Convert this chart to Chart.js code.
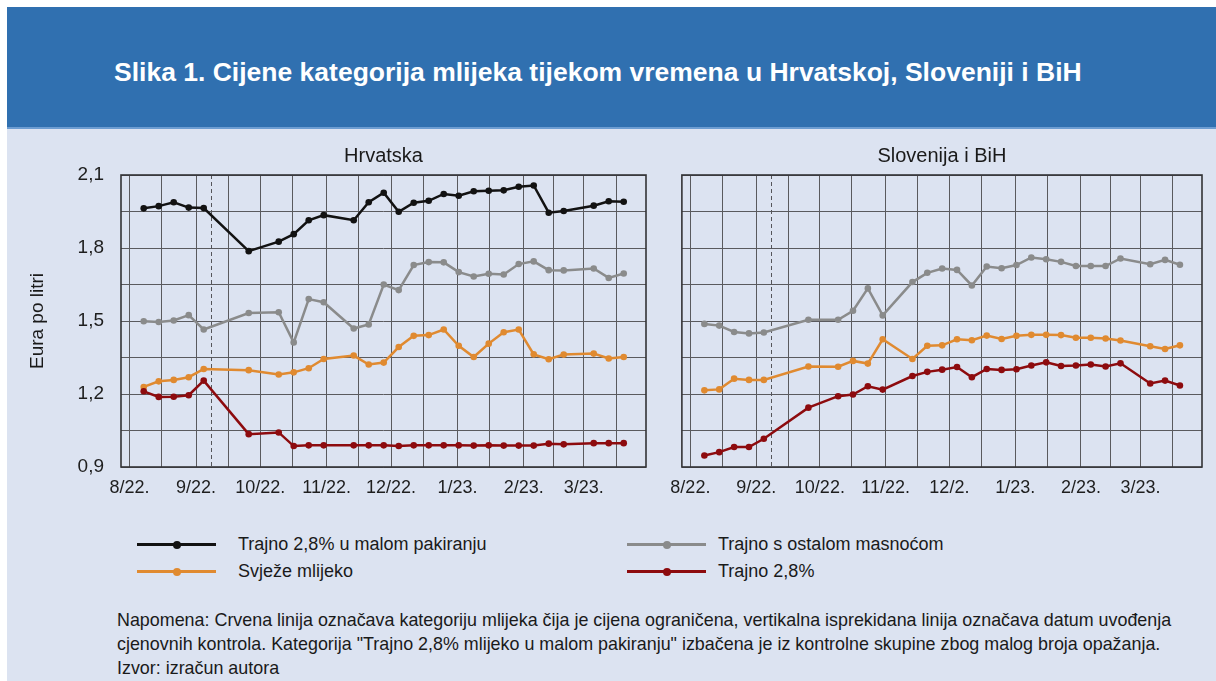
<!DOCTYPE html>
<html lang="hr">
<head>
<meta charset="utf-8">
<title>Slika 1. Cijene kategorija mlijeka</title>
<script src="https://cdn.jsdelivr.net/npm/chart.js@4.4.1/dist/chart.umd.min.js"></script>
<style>
  html, body { margin: 0; padding: 0; background: #fff; }
  body {
    width: 1216px; height: 681px; position: relative; overflow: hidden;
    font-family: "Liberation Sans", Arial, sans-serif;
    color: #1a1a1a;
  }
  .bg { position: absolute; left: 7px; top: 7px; right: 0; bottom: 0; background: #dce3f1; }
  .header {
    position: absolute; left: 7px; top: 7px; width: 1209px; height: 120px;
    background: #3070b0; border-bottom: 2px solid #6d9dd2;
  }
  .header h1 {
    position: absolute; left: 107px; top: 50px; margin: 0; line-height: 30px;
    font: bold 26.5px "Liberation Sans", Arial, sans-serif; color: #fff; white-space: nowrap;
  }
  canvas { position: absolute; }
  #chartHr { left: 0; top: 135px; }
  #chartSi { left: 660px; top: 135px; }
  .legend { position: absolute; font-size: 18px; white-space: nowrap; }
  .legend .item { position: absolute; height: 22px; }
  .legend .swatch { position: absolute; left: 0; top: 9px; width: 79px; height: 3px; }
  .legend .swatch::after {
    content: ""; position: absolute; left: 36px; top: -2.5px; width: 8px; height: 8px;
    border-radius: 50%; background: inherit;
  }
  .legend .label { position: absolute; top: 0; }
  .note { position: absolute; left: 117px; top: 608px; font-size: 17.9px; line-height: 24px; white-space: nowrap; }
</style>
</head>
<body>
<div class="bg"></div>
<div class="header"><h1>Slika 1. Cijene kategorija mlijeka tijekom vremena u Hrvatskoj, Sloveniji i BiH</h1></div>
<canvas id="chartHr" width="660" height="365"></canvas>
<canvas id="chartSi" width="556" height="365"></canvas>
<div class="legend" id="legend"></div>
<div class="note">
  Napomena: Crvena linija označava kategoriju mlijeka čija je cijena ograničena, vertikalna isprekidana linija označava datum uvođenja<br>
  cjenovnih kontrola. Kategorija &quot;Trajno 2,8% mlijeko u malom pakiranju&quot; izbačena je iz kontrolne skupine zbog malog broja opažanja.<br>
  Izvor: izračun autora
</div>
<script>
// x axis is days since 1 Aug 2022; observations are weekly
const firstObsDay = 6.6;
const capDay = 38; // uvođenje kontrole cijena (8.9.2022.)
const obsWeeks = [0, 1, 2, 3, 4, 7, 9, 10, 11, 12, 14, 15, 16, 17, 18, 19, 20, 21, 22, 23, 24, 25, 26, 27, 28, 30, 31, 32];

const gridDays = [0, 15, 31, 46, 61, 76, 92, 107, 122, 137, 153, 168, 184, 198, 212, 227];
const monthDays = [0, 31, 61, 92, 122, 153, 184, 212];
const monthLabelsHr = ["8/22.", "9/22.", "10/22.", "11/22.", "12/22.", "1/23.", "2/23.", "3/23."];
const monthLabelsSi = ["8/22.", "9/22.", "10/22.", "11/22.", "12/2.", "1/23.", "2/23.", "3/23."];

const yGridValues = [0.9, 1.05, 1.2, 1.35, 1.5, 1.65, 1.8, 1.95, 2.1];
const yLabelValues = [0.9, 1.2, 1.5, 1.8, 2.1];

// Hrvatska
const hrMaloPakiranje = [1.963, 1.972, 1.988, 1.966, 1.964, 1.787, 1.826, 1.857, 1.914, 1.935, 1.914, 1.988,
  2.027, 1.949, 1.986, 1.994, 2.022, 2.015, 2.033, 2.035, 2.037, 2.052, 2.057, 1.945, 1.952, 1.974, 1.992, 1.990];
const hrOstalaMasnoca = [1.499, 1.496, 1.502, 1.524, 1.465, 1.533, 1.536, 1.412, 1.590, 1.577, 1.469, 1.486,
  1.650, 1.627, 1.730, 1.742, 1.741, 1.701, 1.683, 1.694, 1.691, 1.734, 1.745, 1.709, 1.708, 1.716, 1.677, 1.695];
const hrSvjeze = [1.229, 1.252, 1.258, 1.269, 1.303, 1.298, 1.280, 1.289, 1.306, 1.344, 1.358, 1.321,
  1.329, 1.393, 1.439, 1.442, 1.465, 1.398, 1.352, 1.407, 1.454, 1.465, 1.363, 1.343, 1.362, 1.366, 1.346, 1.352];
const hrTrajno28 = [1.211, 1.188, 1.189, 1.195, 1.255, 1.035, 1.042, 0.986, 0.989, 0.989, 0.989, 0.989,
  0.989, 0.986, 0.989, 0.989, 0.989, 0.989, 0.988, 0.989, 0.988, 0.988, 0.988, 0.996, 0.993, 0.998, 0.998, 0.998];

// Slovenija i BiH
const siOstalaMasnoca = [1.488, 1.481, 1.455, 1.449, 1.453, 1.505, 1.505, 1.542, 1.634, 1.523, 1.660, 1.698,
  1.716, 1.710, 1.646, 1.724, 1.717, 1.730, 1.761, 1.754, 1.743, 1.726, 1.726, 1.726, 1.757, 1.733, 1.751, 1.731];
const siSvjeze = [1.215, 1.219, 1.263, 1.258, 1.258, 1.313, 1.312, 1.336, 1.325, 1.425, 1.344, 1.398,
  1.400, 1.425, 1.421, 1.440, 1.426, 1.439, 1.443, 1.443, 1.442, 1.431, 1.431, 1.428, 1.420, 1.396, 1.385, 1.400];
const siTrajno28 = [0.947, 0.961, 0.982, 0.982, 1.016, 1.144, 1.191, 1.198, 1.232, 1.218, 1.274, 1.291,
  1.300, 1.311, 1.269, 1.303, 1.299, 1.302, 1.317, 1.330, 1.315, 1.317, 1.321, 1.313, 1.326, 1.243, 1.255, 1.235];

const seriesNames = {
  malo: "Trajno 2,8% u malom pakiranju",
  ostala: "Trajno s ostalom masnoćom",
  svjeze: "Svježe mlijeko",
  trajno: "Trajno 2,8%",
};
const colors = {
  malo: "#121212",
  ostala: "#8a8b8b",
  svjeze: "#e08a30",
  trajno: "#8d0b0e",
};

const fontFamily = '"Liberation Sans", Arial, sans-serif';
const gridColor = "#5a5a5e";

const makeDataset = (key, values) => ({
  label: seriesNames[key],
  data: obsWeeks.map((w, i) => ({ x: firstObsDay + 7 * w, y: values[i] })),
  borderColor: colors[key],
  backgroundColor: colors[key],
  pointBackgroundColor: colors[key],
  pointBorderColor: colors[key],
  pointRadius: 3.3,
  pointBorderWidth: 0,
  borderWidth: 2.5,
  tension: 0,
});

// okvir i isprekidana linija datuma uvođenja kontrole
const framePlugin = {
  id: "frame",
  beforeDatasetsDraw(chart) {
    const { ctx, chartArea, scales } = chart;
    ctx.save();
    const xCap = scales.x.getPixelForValue(capDay);
    ctx.strokeStyle = "#55555a";
    ctx.lineWidth = 1;
    ctx.setLineDash([4, 3]);
    ctx.beginPath();
    ctx.moveTo(Math.round(xCap) + 0.5, chartArea.top);
    ctx.lineTo(Math.round(xCap) + 0.5, chartArea.bottom);
    ctx.stroke();
    ctx.setLineDash([]);
    ctx.strokeStyle = "#333336";
    ctx.lineWidth = 1.6;
    ctx.strokeRect(chartArea.left, chartArea.top, chartArea.right - chartArea.left, chartArea.bottom - chartArea.top);
    ctx.restore();
  },
};

const buildChart = (canvas, title, datasets, monthLabels, yAxisWidth, showYLabels) => {
  return new Chart(canvas, {
    type: "line",
    data: { datasets },
    plugins: [framePlugin],
    options: {
      responsive: false,
      animation: false,
      devicePixelRatio: 1,
      layout: { padding: { left: 0, right: 14, top: 0, bottom: 0 } },
      plugins: {
        legend: { display: false },
        tooltip: { enabled: false },
        title: {
          display: true,
          fullSize: false,
          text: title,
          color: "#1a1a1a",
          font: { family: fontFamily, size: 20, weight: "normal" },
          padding: { top: 9, bottom: 7 },
        },
      },
      scales: {
        x: {
          type: "linear",
          min: -4,
          max: 241,
          afterBuildTicks: (scale) => {
            scale.ticks = gridDays.map((v) => ({ value: v }));
          },
          afterFit: (scale) => {
            scale.height = 33;
          },
          ticks: {
            autoSkip: false,
            maxRotation: 0,
            minRotation: 0,
            padding: 10,
            color: "#1e1e1e",
            font: { family: fontFamily, size: 18 },
            callback: (value) => {
              const idx = monthDays.indexOf(value);
              return idx >= 0 ? monthLabels[idx] : "";
            },
          },
          grid: { color: gridColor, lineWidth: 1, drawTicks: false },
          border: { display: false },
        },
        y: {
          min: 0.9,
          max: 2.1,
          afterBuildTicks: (scale) => {
            scale.ticks = yGridValues.map((v) => ({ value: v }));
          },
          afterFit: (scale) => {
            scale.width = yAxisWidth;
          },
          ticks: {
            display: showYLabels,
            padding: 17,
            color: "#1e1e1e",
            font: { family: fontFamily, size: 19 },
            callback: (value) =>
              yLabelValues.some((v) => Math.abs(v - value) < 1e-6) ? value.toFixed(1).replace(".", ",") : "",
          },
          title: {
            display: showYLabels,
            text: "Eura po litri",
            color: "#1a1a1a",
            font: { family: fontFamily, size: 19 },
            padding: { top: 26, bottom: 0 },
          },
          grid: { color: gridColor, lineWidth: 1, drawTicks: false },
          border: { display: false },
        },
      },
    },
  });
};

buildChart(
  document.getElementById("chartHr"),
  "Hrvatska",
  [
    makeDataset("trajno", hrTrajno28),
    makeDataset("svjeze", hrSvjeze),
    makeDataset("ostala", hrOstalaMasnoca),
    makeDataset("malo", hrMaloPakiranje),
  ],
  monthLabelsHr,
  121,
  true
);

buildChart(
  document.getElementById("chartSi"),
  "Slovenija i BiH",
  [
    makeDataset("trajno", siTrajno28),
    makeDataset("svjeze", siSvjeze),
    makeDataset("ostala", siOstalaMasnoca),
  ],
  monthLabelsSi,
  18,
  false
);

// legenda
const legendItems = [
  { key: "malo", left: 137, top: 534, labelLeft: 101 },
  { key: "ostala", left: 627, top: 534, labelLeft: 91 },
  { key: "svjeze", left: 137, top: 561, labelLeft: 101 },
  { key: "trajno", left: 627, top: 561, labelLeft: 91 },
];
const legend = document.getElementById("legend");
legendItems.forEach((item) => {
  const div = document.createElement("div");
  div.className = "item";
  div.style.left = item.left + "px";
  div.style.top = item.top + "px";
  div.innerHTML = `<span class="swatch" style="background:${colors[item.key]}"></span><span class="label" style="left:${item.labelLeft}px">${seriesNames[item.key]}</span>`;
  legend.appendChild(div);
});
</script>
</body>
</html>
